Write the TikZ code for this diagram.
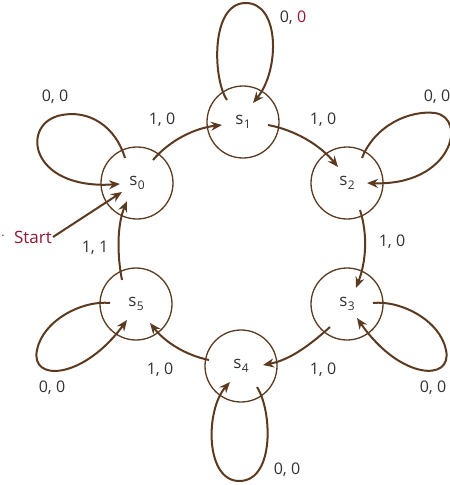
\documentclass[tikz,border=0pt]{standalone}
\usepackage{fontspec}
\setmainfont{Open Sans}
\usetikzlibrary{arrows.meta}
\definecolor{brn}{HTML}{5B3A20}
\definecolor{txt}{HTML}{333030}
\definecolor{mar}{HTML}{8E1838}
\newcommand{\st}[1]{s\kern0.3pt\raisebox{-0.45ex}{\fontsize{12}{12}\selectfont #1}}
\tikzset{
  state/.style={circle, draw=brn, line width=1.3pt, minimum size=72pt, inner sep=0pt, text=txt, font=\fontsize{17}{19}\selectfont},
  arr/.style={draw=brn, line width=2pt, -{Stealth[length=11pt,width=9pt]}},
  lbl/.style={text=txt, font=\fontsize{16}{18}\selectfont, inner sep=0pt}
}
\begin{document}
\begin{tikzpicture}[x=1pt,y=-1pt]
\useasboundingbox (0,0) rectangle (450,485);
\node[state] (s0) at (137,183) {\st{0}};
\node[state] (s1) at (243,122) {\st{1}};
\node[state] (s2) at (347,183) {\st{2}};
\node[state] (s3) at (347,304) {\st{3}};
\node[state] (s4) at (241,366) {\st{4}};
\node[state] (s5) at (136,304) {\st{5}};
% loops
\draw[arr] ([shift={(-12,-25)}]s0.center) .. controls (115,125) and (88,110) .. (62,115) .. controls (20,122) and (28,190) .. ([shift={(-17,1)}]s0.center);
\draw[arr] ([shift={(-16,-22)}]s1.center) .. controls (213,80) and (210,4) .. (245,3) .. controls (280,2) and (280,70) .. ([shift={(10,-19)}]s1.center);
\draw[arr] ([shift={(15,-25)}]s2.center) .. controls (375,125) and (410,110) .. (435,113) .. controls (468,118) and (452,186) .. ([shift={(20,0)}]s2.center);
\draw[arr] ([shift={(26,-1)}]s3.center) .. controls (400,300) and (440,320) .. (446,350) .. controls (453,382) and (400,380) .. ([shift={(10,14)}]s3.center);
\draw[arr] ([shift={(16,21)}]s4.center) .. controls (272,410) and (275,480) .. (240,481) .. controls (205,482) and (205,410) .. ([shift={(-11,16)}]s4.center);
\draw[arr] ([shift={(-26,-1)}]s5.center) .. controls (83,300) and (43,320) .. (37,350) .. controls (30,382) and (83,380) .. ([shift={(-9,16)}]s5.center);
% transitions
\draw[arr] ([shift={(16,-23)}]s0.center) .. controls (170,140) and (195,128) .. ([shift={(-21,3)}]s1.center);
\draw[arr] ([shift={(25,3)}]s1.center) .. controls (295,130) and (320,145) .. ([shift={(-9,-16)}]s2.center);
\draw[arr] ([shift={(13,27)}]s2.center) .. controls (368,235) and (366,262) .. ([shift={(9,-16)}]s3.center);
\draw[arr] ([shift={(-17,23)}]s3.center) .. controls (310,345) and (290,360) .. ([shift={(22,-1)}]s4.center);
\draw[arr] ([shift={(-32,-6)}]s4.center) .. controls (185,355) and (165,342) .. ([shift={(14,19)}]s5.center);
\draw[arr] ([shift={(-14,-24)}]s5.center) .. controls (117,255) and (117,225) .. ([shift={(-10,18)}]s0.center);
% start
\node[text=mar, font=\fontsize{17}{19}\selectfont, inner sep=1pt, anchor=east] (start) at (53,237) {Start};
\node[text=txt, font=\fontsize{12}{12}\selectfont, inner sep=0pt] (dot) at (3,236) {.};
\draw[arr] (start.east) -- ([shift={(-15,9)}]s0.center);
% labels
\node[lbl] (l00a) at (55,97) {0, 0};
\node[lbl] (l10a) at (162,120) {1, 0};
\node[lbl] (l00b) at (293,18) {0, {\color{mar}0}};
\node[lbl] (l10b) at (323,120) {1, 0};
\node[lbl] (l00c) at (437,97) {0, 0};
\node[lbl] (l10c) at (392,242) {1, 0};
\node[lbl] (l00d) at (433,388) {0, 0};
\node[lbl] (l10d) at (323,370) {1, 0};
\node[lbl] (l00e) at (287,470) {0, 0};
\node[lbl] (l10e) at (160,370) {1, 0};
\node[lbl] (l00f) at (52,388) {0, 0};
\node[lbl] (l11) at (95,248) {1, 1};
\end{tikzpicture}
\end{document}
